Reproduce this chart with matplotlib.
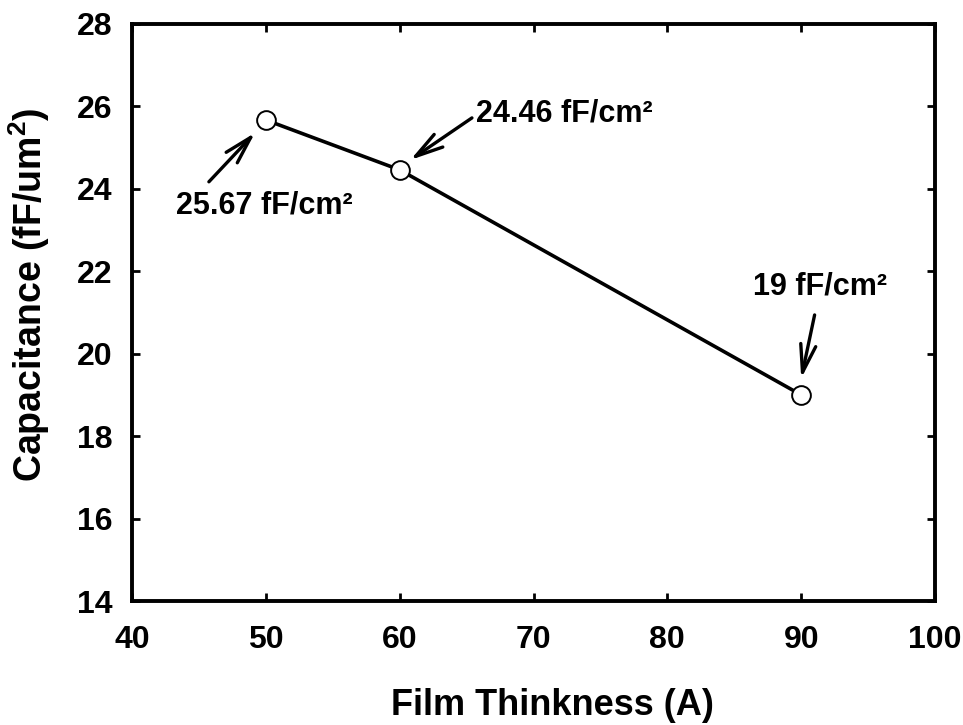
import matplotlib
matplotlib.use("Agg")
import matplotlib.pyplot as plt

plt.rcParams['font.family'] = 'Liberation Sans'
plt.rcParams['font.weight'] = 'bold'
plt.rcParams['mathtext.fontset'] = 'custom'
plt.rcParams['mathtext.rm'] = 'Liberation Sans:bold'
plt.rcParams['mathtext.bf'] = 'Liberation Sans:bold'
plt.rcParams['mathtext.it'] = 'Liberation Sans:bold'

# Film thickness vs capacitance
thickness = [50, 60, 90]
capacitance = [25.67, 24.46, 19.0]
labels = ["25.67 fF/cm\u00b2", "24.46 fF/cm\u00b2", "19 fF/cm\u00b2"]

x_ticks = [40, 50, 60, 70, 80, 90, 100]
y_ticks = [14, 16, 18, 20, 22, 24, 26, 28]

fig, ax = plt.subplots(figsize=(9.63, 7.25), dpi=100)
fig.subplots_adjust(left=0.137, right=0.971, top=0.967, bottom=0.171)

ax.plot(thickness, capacitance, color="black", linewidth=2.6, marker="o",
        markersize=13.5, markerfacecolor="white", markeredgecolor="black",
        markeredgewidth=1.4, zorder=3)

ax.set_xlim(40, 100)
ax.set_ylim(14, 28)
ax.set_xticks(x_ticks)
ax.set_yticks(y_ticks)
ax.tick_params(direction="in", length=6, width=2, top=True, right=True,
               labelsize=23)
ax.tick_params(axis="x", pad=17)
ax.tick_params(axis="y", pad=14)
for s in ax.spines.values():
    s.set_linewidth(2.8)

ax.set_xlabel("Film Thinkness (A)", fontsize=26, fontweight="bold")
ax.set_ylabel(r"Capacitance (fF/um$^{2}$)", fontsize=27, fontweight="bold")
ax.xaxis.set_label_coords(0.523, -0.15)
ax.yaxis.set_label_coords(-0.1, 0.53)

# annotation arrows: arrow tail -> arrow head next to each point
arrow_style = dict(arrowstyle="->,head_length=2.0,head_width=0.55",
                   color="black", linewidth=2.4, shrinkA=0, shrinkB=0)

ax.annotate("", xy=(49.2, 25.36), xytext=(45.75, 24.17), arrowprops=arrow_style)
ax.text(49.9, 23.6, labels[0], fontsize=22, fontweight="bold",
        ha="center", va="center")

ax.annotate("", xy=(60.8, 24.7), xytext=(65.4, 25.72), arrowprops=arrow_style)
ax.text(65.7, 25.82, labels[1], fontsize=22, fontweight="bold",
        ha="left", va="center")

ax.annotate("", xy=(90.0, 19.4), xytext=(91.0, 20.94), arrowprops=arrow_style)
ax.text(91.4, 21.62, labels[2], fontsize=22, fontweight="bold",
        ha="center", va="center")

fig.savefig("out.png", dpi=100)
